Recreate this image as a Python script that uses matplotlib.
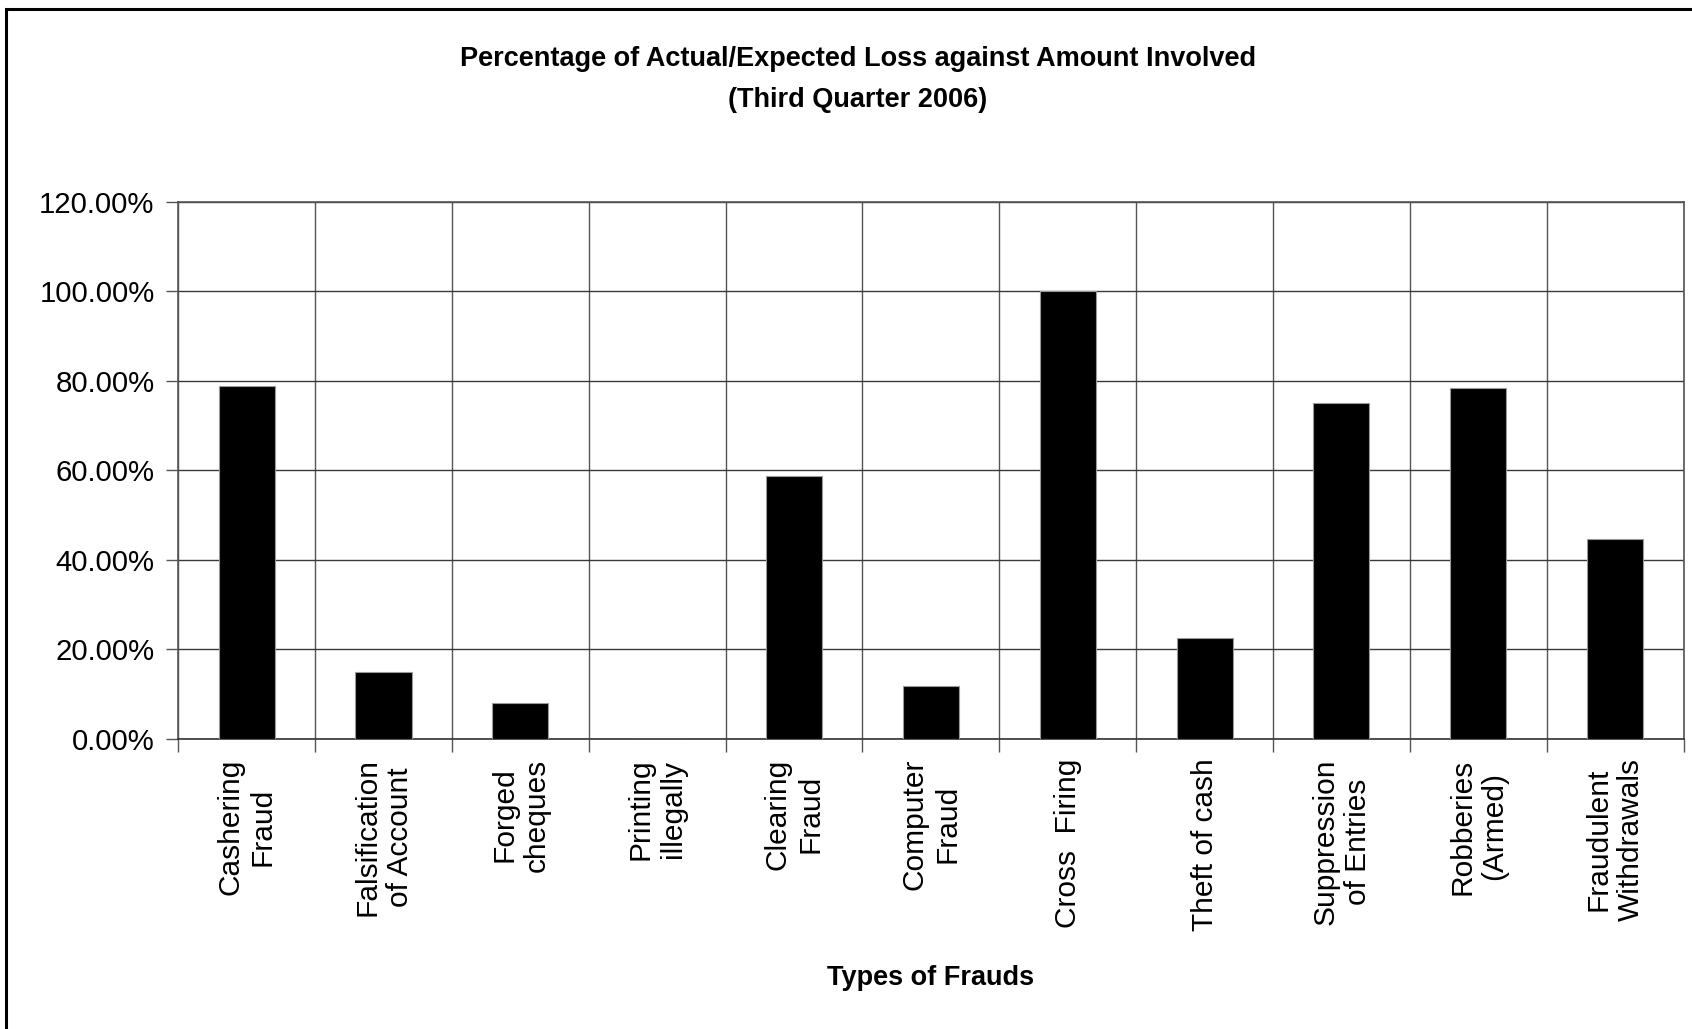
import matplotlib
matplotlib.use("Agg")
import matplotlib.pyplot as plt
from matplotlib.ticker import FuncFormatter, FixedLocator
from matplotlib.patches import Rectangle

categories = [
    "Cashering\nFraud", "Falsification\nof Account", "Forged\ncheques",
    "Printing\nillegally", "Clearing\nFraud", "Computer\nFraud",
    "Cross  Firing", "Theft of cash", "Suppression\nof Entries",
    "Robberies\n(Armed)", "Fraudulent\nWithdrawals",
]
loss_pct = [78.9, 14.9, 7.9, 0.0, 58.7, 11.8, 100.0, 22.6, 75.0, 78.3, 44.6]
y_ticks = [0, 20, 40, 60, 80, 100, 120]

title_font = ["Liberation Sans Narrow", "Liberation Sans", "DejaVu Sans"]
body_font = ["Liberation Sans", "DejaVu Sans"]

fig = plt.figure(figsize=(16.92, 10.29), dpi=100)
ax = fig.add_axes([0.1053, 0.282, 0.8897, 0.522])

x = list(range(len(categories)))
ax.bar(x, loss_pct, width=0.41, color="black", edgecolor="#9a9a9a",
       linewidth=0.8, zorder=3)

ax.set_xlim(-0.5, len(categories) - 0.5)
ax.set_ylim(0, 120)

# horizontal grid at the value ticks, vertical grid between categories
ax.yaxis.set_major_locator(FixedLocator(y_ticks))
ax.yaxis.set_major_formatter(FuncFormatter(lambda v, _: f"{v:.2f}%"))
ax.grid(axis="y", color="#3a3a3a", linewidth=1.0, zorder=0)

bounds = [i - 0.5 for i in range(len(categories) + 1)]
ax.set_xticks(bounds, minor=True)
ax.set_xticks(x)
ax.set_xticklabels(categories, rotation=90, ha="center", va="top",
                   multialignment="center", fontsize=21.5,
                   family=body_font, linespacing=1.2)
ax.tick_params(axis="x", which="major", length=0, pad=14)
ax.tick_params(axis="x", which="minor", length=9, width=1.0,
               color="#555555", direction="out")
ax.grid(axis="x", which="minor", color="#555555", linewidth=1.0, zorder=0)

ax.tick_params(axis="y", length=9, width=1.0, color="#555555",
               labelsize=21.2, pad=8)
for lbl in ax.get_yticklabels():
    lbl.set_family(body_font)

for side in ["left", "right", "top", "bottom"]:
    ax.spines[side].set_color("#555555")
    ax.spines[side].set_linewidth(1.2)
ax.spines["bottom"].set_color("#333333")

ax.set_xlabel("Types of Frauds", fontsize=19.5, fontweight="bold",
              family=title_font)
ax.xaxis.label.set_va("center")
ax.xaxis.set_label_coords(0.5, -0.445)

fig.text(0.507, 0.943, "Percentage of Actual/Expected Loss against Amount Involved",
         ha="center", va="center", fontsize=19.5, fontweight="bold",
         family=title_font)
fig.text(0.507, 0.903, "(Third Quarter 2006)", ha="center", va="center",
         fontsize=19.5, fontweight="bold", family=title_font)

# outer chart frame
fig.patches.append(Rectangle((0.0035, -0.01), 1.2, 1.0016,
                             transform=fig.transFigure, fill=False,
                             edgecolor="black", linewidth=2.2))

fig.savefig("out.png", dpi=100, facecolor="white")
